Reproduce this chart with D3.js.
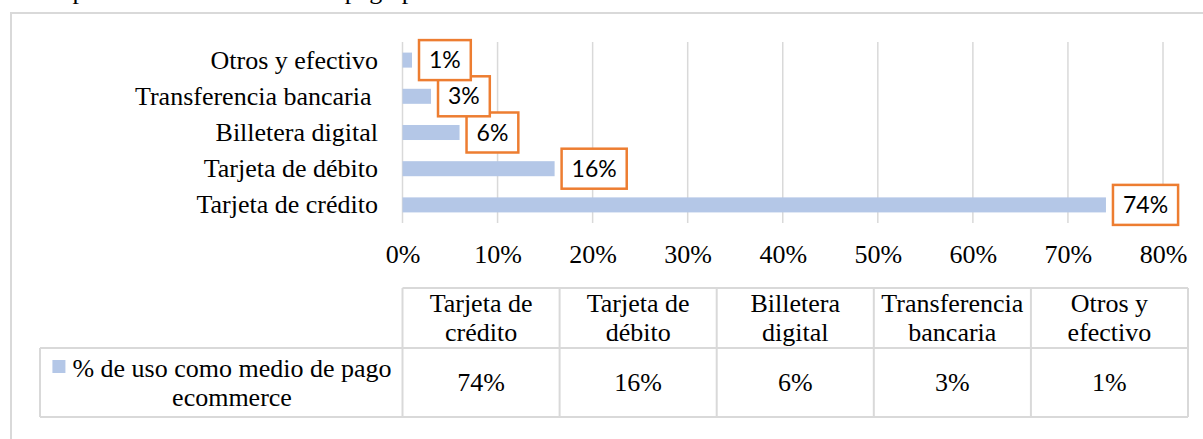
<!DOCTYPE html>
<html>
<head>
<meta charset="utf-8">
<script src="https://cdn.jsdelivr.net/npm/d3@7"></script>
<style>
  body { margin: 0; background: white; }
  text { white-space: pre; }
</style>
</head>
<body>
<div id="container"></div>
<script>
let w = 1203;
let h = 439;

// data
let categories = ["Tarjeta de crédito", "Tarjeta de débito", "Billetera digital", "Transferencia bancaria", "Otros y efectivo"];
let axisLabels = ["Tarjeta de crédito", "Tarjeta de débito", "Billetera digital", "Transferencia bancaria ", "Otros y efectivo"];
let values = [74, 16, 6, 3, 1];
let xTicks = [0, 10, 20, 30, 40, 50, 60, 70, 80];
let seriesLines = ["% de uso como medio de pago", "ecommerce"];
let caption = "Comparativo de los medios de pago preferidos en ecommerce";

let serif = "'Liberation Serif', 'Times New Roman', serif";
let sans = "Lato, 'Open Sans', sans-serif";
let grey = "#d9d9d9";
let barColor = "#b4c7e7";
let orange = "#ed7d31";

let viz = d3.select("#container")
  .append("svg")
    .attr("width", w)
    .attr("height", h)
    .style("display", "block")
    .style("background-color", "white");

// caption cut off at the top of the picture
viz.append("text")
  .attr("x", 22)
  .attr("y", -1)
  .attr("font-family", serif)
  .attr("font-size", 26)
  .text(caption);

// chart frame (runs past the right and bottom edges)
viz.append("rect")
  .attr("x", 11)
  .attr("y", 13)
  .attr("width", 1400)
  .attr("height", 600)
  .attr("fill", "none")
  .attr("stroke", grey)
  .attr("stroke-width", 2);

let plotTop = 42;
let plotBottom = 223;

let xScale = d3.scaleLinear().domain([0, 80]).range([402.5, 1163]);

// reversed so the first category sits at the bottom
let yScale = d3.scaleBand()
  .domain(categories.slice().reverse())
  .range([plotTop, plotBottom])
  .paddingInner(0.585)
  .paddingOuter(0.2925);

// gridlines
viz.append("g")
  .selectAll("line")
  .data(xTicks)
  .enter()
  .append("line")
    .attr("x1", d => xScale(d))
    .attr("x2", d => xScale(d))
    .attr("y1", plotTop)
    .attr("y2", plotBottom)
    .attr("stroke", grey)
    .attr("stroke-width", 1.5);

// x axis labels
let xAxis = d3.axisBottom(xScale)
  .tickValues(xTicks)
  .tickSize(0)
  .tickPadding(21.5)
  .tickFormat(d => d + "%");
let xAxisG = viz.append("g").attr("transform", "translate(0," + plotBottom + ")");
xAxisG.call(xAxis);
xAxisG.select(".domain").remove();
xAxisG.selectAll("text")
  .attr("font-family", serif)
  .attr("font-size", 26)
  .attr("fill", "black");

// y axis labels
let yAxis = d3.axisLeft(yScale)
  .tickSize(0)
  .tickPadding(24.5)
  .tickFormat(d => axisLabels[categories.indexOf(d)]);
let yAxisG = viz.append("g").attr("transform", "translate(" + xScale(0) + ",0)");
yAxisG.call(yAxis);
yAxisG.select(".domain").remove();
yAxisG.selectAll("text")
  .attr("font-family", serif)
  .attr("font-size", 26)
  .attr("dy", "0.33em")
  .attr("fill", "black");

// bars
viz.append("g")
  .selectAll("rect")
  .data(values)
  .enter()
  .append("rect")
    .attr("x", xScale(0))
    .attr("y", (d, i) => yScale(categories[i]))
    .attr("width", d => xScale(d) - xScale(0))
    .attr("height", yScale.bandwidth())
    .attr("fill", barColor);

// data labels in orange boxes
let labelG = viz.append("g")
  .selectAll("g")
  .data(values)
  .enter()
  .append("g")
    .attr("transform", (d, i) => "translate(" + (xScale(d) + 7) + "," + (yScale(categories[i]) + yScale.bandwidth() / 2) + ")");

labelG.append("rect").attr("class", "box");
labelG.append("text")
  .attr("font-family", sans)
  .attr("font-size", 23)
  .attr("text-anchor", "middle")
  .attr("y", 8)
  .attr("fill", "black")
  .text(d => d + "%");

labelG.each(function(d){
  let g = d3.select(this);
  let tw = g.select("text").node().getComputedTextLength();
  let bw = tw + 20;
  g.select("text").attr("x", bw / 2);
  g.select("rect")
    .attr("x", 0)
    .attr("y", -20)
    .attr("width", bw)
    .attr("height", 40)
    .attr("fill", "white")
    .attr("stroke", orange)
    .attr("stroke-width", 2.5);
});

// data table
let colScale = d3.scaleBand().domain(categories).range([402.5, 1188]);
let tableTop = 288;
let rowSplit = 348;
let tableBottom = 417;
let tableLeft = 40;

let tableG = viz.append("g");
let hLines = [[colScale.range()[0], tableTop], [tableLeft, rowSplit], [tableLeft, tableBottom]];
tableG.selectAll("line.h")
  .data(hLines)
  .enter()
  .append("line")
    .attr("x1", d => d[0])
    .attr("x2", colScale.range()[1])
    .attr("y1", d => d[1])
    .attr("y2", d => d[1])
    .attr("stroke", grey)
    .attr("stroke-width", 2);

let vLines = categories.map(c => colScale(c)).concat([colScale.range()[1]]);
tableG.selectAll("line.v")
  .data(vLines)
  .enter()
  .append("line")
    .attr("x1", d => d)
    .attr("x2", d => d)
    .attr("y1", tableTop)
    .attr("y2", tableBottom)
    .attr("stroke", grey)
    .attr("stroke-width", 2);
tableG.append("line")
  .attr("x1", tableLeft).attr("x2", tableLeft)
  .attr("y1", rowSplit).attr("y2", tableBottom)
  .attr("stroke", grey)
  .attr("stroke-width", 2);

// header cells, split at the last space
let headG = tableG.selectAll("g.head")
  .data(categories)
  .enter()
  .append("g")
    .attr("transform", d => "translate(" + (colScale(d) + colScale.bandwidth() / 2) + ",0)");
headG.append("text")
  .attr("y", 312)
  .text(d => d.slice(0, d.lastIndexOf(" ")));
headG.append("text")
  .attr("y", 341)
  .text(d => d.slice(d.lastIndexOf(" ") + 1));
headG.selectAll("text")
  .attr("font-family", serif)
  .attr("font-size", 26)
  .attr("text-anchor", "middle")
  .attr("fill", "black");

// value cells
tableG.selectAll("text.val")
  .data(values)
  .enter()
  .append("text")
    .attr("x", (d, i) => colScale(categories[i]) + colScale.bandwidth() / 2)
    .attr("y", 391)
    .attr("font-family", serif)
    .attr("font-size", 26)
    .attr("text-anchor", "middle")
    .attr("fill", "black")
    .text(d => d + "%");

// legend cell
let legendX = 232;
let legendText = tableG.selectAll("text.leg")
  .data(seriesLines)
  .enter()
  .append("text")
    .attr("x", legendX)
    .attr("y", (d, i) => 377 + i * 29)
    .attr("font-family", serif)
    .attr("font-size", 26)
    .attr("text-anchor", "middle")
    .attr("fill", "black")
    .text(d => d);
let firstWidth = legendText.node().getComputedTextLength();
tableG.append("rect")
  .attr("x", legendX - firstWidth / 2 - 20)
  .attr("y", 360)
  .attr("width", 13)
  .attr("height", 13)
  .attr("fill", barColor);
</script>
</body>
</html>
